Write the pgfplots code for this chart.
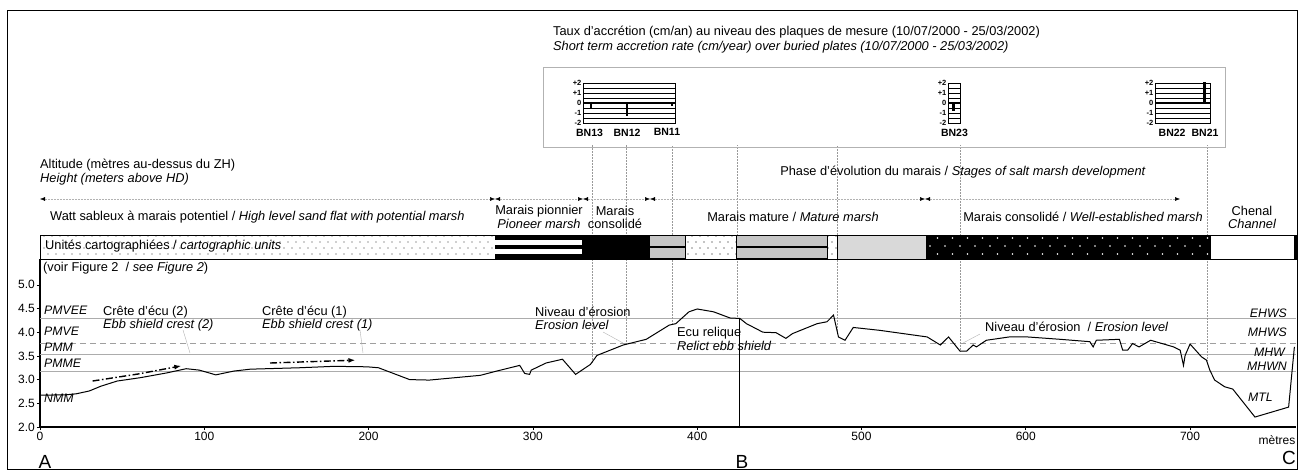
\documentclass[border=0pt]{standalone}
\usepackage{fontspec}
\setmainfont{Liberation Sans}
\usepackage{pgfplots}
\pgfplotsset{compat=1.18}
\usetikzlibrary{arrows.meta,patterns.meta}

\tikzdeclarepattern{
  name=sdots, type=uncolored,
  bounding box={(-1pt,-1pt) and (5pt,7pt)},
  tile size={(8pt,12pt)},
  code={\pgfpathcircle{\pgfpointorigin}{0.6pt}\pgfpathcircle{\pgfqpoint{4pt}{6pt}}{0.6pt}\pgfusepath{fill}}
}
\tikzdeclarepattern{
  name=wdots, type=uncolored,
  bounding box={(-1pt,-1pt) and (8.5pt,9pt)},
  tile size={(15pt,16pt)},
  code={\pgfpathcircle{\pgfpointorigin}{0.9pt}\pgfpathcircle{\pgfqpoint{7.5pt}{8pt}}{0.9pt}\pgfusepath{fill}}
}

\newcommand\lbl{\fontsize{12.8}{14}\selectfont}
\newcommand\lvl{\fontsize{12.3}{14}\selectfont}
\newcommand\seg[5]{\addplot[#5] coordinates {(#1,#3) (#2,#3) (#2,#4) (#1,#4)} --cycle;}

\pgfplotsset{mini/.style={scale only axis, anchor=south west, height=40pt,
  ymin=-2, ymax=2, ytick={-2,-1,0,1,2}, yticklabels={-2,-1,0,+1,+2},
  minor ytick={-1.5,-0.5,0.5,1.5}, ymajorgrids, yminorgrids,
  major grid style={black,line width=0.4pt}, minor grid style={black,line width=0.4pt},
  axis line style={black,line width=0.5pt}, major tick length=2pt, minor tick length=0pt,
  tick style={black},
  yticklabel style={font=\bfseries\fontsize{7.5}{8}\selectfont, inner sep=1.5pt},
  xticklabel style={font=\bfseries\fontsize{10.5}{12}\selectfont, inner sep=2pt, yshift=-3.5pt},
  xtick style={draw=none},
  /pgf/number format/assume math mode=true, clip=false}}

\begin{document}
\begin{tikzpicture}
\useasboundingbox (0pt,0pt) rectangle (1300pt,-470pt);

% ---------------- main profile axis ----------------
\begin{axis}[
  at={(40pt,-427pt)}, anchor=south west,
  scale only axis, width=1256pt, height=168pt,
  xmin=0, xmax=764.46, ymin=2, ymax=5.5443,
  axis x line*=bottom, axis y line*=left,
  axis line style={line width=1.1pt,-},
  xtick={0,100,...,700}, ytick={2,2.5,...,5},
  tick align=outside, major tick length=3pt, tick style={black,line width=0.6pt},
  yticklabel style={/pgf/number format/fixed,/pgf/number format/fixed zerofill,/pgf/number format/precision=1, inner sep=2pt},
  xticklabel style={inner sep=2pt},
  ticklabel style={font=\fontsize{12}{13}\selectfont},
  /pgf/number format/assume math mode=true,
  clip=false]
% tide levels
\addplot[gray!65, line width=0.7pt] coordinates {(0,4.3) (764.46,4.3)};
\addplot[gray!75, line width=0.7pt, dash pattern=on 6pt off 4pt] coordinates {(0,3.76) (764.46,3.76)};
\addplot[gray!65, line width=0.7pt] coordinates {(0,3.53) (764.46,3.53)};
\addplot[gray!65, line width=0.7pt] coordinates {(0,3.18) (764.46,3.18)};
% plate lines
\addplot[gray!80, densely dotted, line width=0.5pt] coordinates {(336,3.36) (336,7.95)};
\addplot[gray!80, densely dotted, line width=0.5pt] coordinates {(356.7,3.74) (356.7,7.95)};
\addplot[gray!80, densely dotted, line width=0.5pt] coordinates {(384.7,4.16) (384.7,7.95)};
\addplot[gray!80, densely dotted, line width=0.5pt] coordinates {(424.2,4.29) (424.2,7.95)};
\addplot[gray!80, densely dotted, line width=0.5pt] coordinates {(485.1,4.0) (485.1,7.95)};
\addplot[gray!80, densely dotted, line width=0.5pt] coordinates {(560,3.6) (560,7.95)};
\addplot[gray!80, densely dotted, line width=0.5pt] coordinates {(710.3,3.41) (710.3,7.95)};
% profile
\addplot[black, line width=1pt] coordinates {
(0,2.0) (0,2.67) (16,2.68) (22,2.70) (30,2.76) (37,2.86) (47,2.97) (61,3.04) (77,3.14)
(89,3.23) (97,3.20) (107,3.10) (118,3.18) (128,3.22) (158,3.25) (179,3.28) (199,3.27)
(206,3.25) (225,3.00) (237,2.99) (268,3.09) (278,3.18) (292,3.30) (295,3.13) (298,3.11)
(299,3.20) (308,3.35) (318,3.43) (326,3.11) (335,3.32) (339,3.51) (355,3.73) (369,3.85)
(383,4.15) (387,4.18) (395,4.43) (400,4.49) (410,4.43) (420,4.30) (426,4.29) (430,4.18)
(440,4.00) (448,3.99) (454,3.87) (458,3.97) (473,4.18) (479,4.22) (483,4.36) (486,3.90)
(490,3.83) (495,4.10) (511,4.04) (540,3.90) (548,3.73) (553,3.90) (560,3.60) (564,3.60)
(568,3.73) (570,3.69) (576,3.83) (590,3.90) (601,3.90) (621,3.85) (639,3.80) (641,3.69)
(643,3.83) (657,3.85) (659,3.62) (662,3.62) (665,3.76) (669,3.69) (676,3.83) (690,3.69)
(694,3.62) (696,3.30) (697,3.51) (700,3.75) (707,3.48) (710,3.41) (712,3.20) (715,2.99)
(721,2.85) (726,2.80) (739.5,2.21) (760,2.42) (763.5,3.69)};
% B line
\addplot[black, line width=1pt] coordinates {(426,2.0) (426,4.27)};
% dash-dot arrows
\addplot[black, line width=1.4pt, dash pattern=on 7pt off 2.5pt on 1.5pt off 2.5pt, -{Latex[length=7pt,width=5pt]}] coordinates {(32,2.97) (60,3.12) (86,3.29)};
\addplot[black, line width=1.4pt, dash pattern=on 7pt off 2.5pt on 1.5pt off 2.5pt, -{Latex[length=7pt,width=5pt]}] coordinates {(140,3.35) (192,3.41)};
\end{axis}

% ---------------- cartographic units band ----------------
\begin{axis}[
  at={(40pt,-259pt)}, anchor=south west,
  scale only axis, width=1256pt, height=24pt,
  xmin=0, xmax=764.46, ymin=0, ymax=24,
  xtick=\empty, ytick=\empty, axis on top,
  axis line style={black,line width=0.8pt}]
\seg{0}{277}{0}{24}{draw=none, pattern=sdots, pattern color=black!80}
\seg{277}{330}{0}{24}{draw=none, fill=black}
\seg{277}{330}{4.8}{9.6}{draw=none, fill=white}
\seg{277}{330}{14.4}{19.2}{draw=none, fill=white}
\seg{330}{371}{0}{24}{draw=none, fill=black}
\seg{371}{393}{0}{24}{draw=none, fill=gray!45}
\seg{393}{424}{0}{24}{draw=none, pattern=sdots, pattern color=black}
\seg{424}{479}{0}{24}{draw=none, fill=gray!45}
\seg{479}{485}{0}{24}{draw=none, pattern=sdots, pattern color=black}
\seg{485}{539}{0}{24}{draw=none, fill=gray!30}
\seg{539}{712}{0}{24}{draw=none, fill=black}
\seg{539}{712}{0}{24}{draw=none, pattern=wdots, pattern color=white}
\seg{763}{764.46}{0}{24}{draw=none, fill=black}
\addplot[black, line width=1.2pt] coordinates {(371,12) (393,12)};
\addplot[black, line width=1.2pt] coordinates {(424,12) (479,12)};
\addplot[black, line width=0.6pt] coordinates {(371,1) (393,1)};
\addplot[black, line width=0.6pt] coordinates {(424,1) (479,1)};
\addplot[black, line width=0.5pt] coordinates {(393,0) (393,24)};
\addplot[black, line width=0.5pt] coordinates {(424,0) (424,24)};
\addplot[black, line width=0.5pt] coordinates {(479,0) (479,24)};
\addplot[black, line width=0.5pt] coordinates {(485,0) (485,24)};
\addplot[black, line width=0.5pt] coordinates {(712,0) (712,24)};
\end{axis}

% ---------------- accretion mini charts ----------------
\begin{axis}[mini, at={(583pt,-123pt)}, width=92pt, xmin=330.5, xmax=386.5,
  xtick={334.5,357.3,381.6}, xticklabels={BN13,BN12,BN11}]
\addplot[black, line width=1pt] coordinates {(330.5,0) (386.5,0)};
\addplot[black, line width=2.4pt] coordinates {(335.4,0.1) (335.4,-0.5)};
\addplot[black, line width=2.4pt] coordinates {(357.3,0) (357.3,-1.35)};
\addplot[black, line width=1.6pt] coordinates {(384.7,0.1) (384.7,-0.35)};
\end{axis}
\begin{axis}[mini, at={(948pt,-123pt)}, width=12pt, xmin=552.6, xmax=559.9,
  xtick={556.5}, xticklabels={BN23}]
\addplot[black, line width=1pt] coordinates {(552.6,0) (559.9,0)};
\addplot[black, line width=2.4pt] coordinates {(556,-0.15) (556,-0.85)};
\end{axis}
\begin{axis}[mini, at={(1155pt,-123pt)}, width=55pt, xmin=678.6, xmax=712,
  xtick={689,709}, xticklabels={BN22,BN21}]
\addplot[black, line width=1pt] coordinates {(678.6,0) (712,0)};
\addplot[black, line width=2.6pt] coordinates {(708.5,0) (708.5,2.05)};
\addplot[black, line width=1pt] coordinates {(689,-0.1) (689,0.05)};
\end{axis}

% ---------------- annotations (pixel coordinates) ----------------
\begin{scope}[x=1pt,y=-1pt, every node/.append style={inner sep=0pt, text=black}]
\draw[line width=1pt] (7,11) rectangle (1297,469);
\draw[gray!60, line width=0.5pt] (543,67) rectangle (1225,147);

\node[anchor=west, font=\lbl] at (553,32) {Taux d'accrétion (cm/an) au niveau des plaques de mesure (10/07/2000 - 25/03/2002)};
\node[anchor=west, font=\lbl\itshape] at (553,47) {Short term accretion rate (cm/year) over buried plates (10/07/2000 - 25/03/2002)};

\node[anchor=west, font=\lbl] at (40,165) {Altitude (mètres au-dessus du ZH)};
\node[anchor=west, font=\lbl\itshape] at (40,179) {Height (meters above HD)};
\node[font=\lbl] at (963,172) {Phase d'évolution du marais / \textit{Stages of salt marsh development}};

% stage arrows
\foreach \a/\b in {40/495,495/583,583/650,650/925,925/1180}
  \draw[gray!60, line width=0.5pt, dash pattern=on 2pt off 1pt,
        {Latex[length=5pt,width=4pt,color=black]}-{Latex[length=5pt,width=4pt,color=black]}] (\a,199) -- (\b,199);

\node[anchor=west, font=\lbl] at (50,217) {Watt sableux à marais potentiel / \textit{High level sand flat with potential marsh}};
\node[font=\lbl] at (539,211) {Marais pionnier};
\node[font=\lbl\itshape] at (539,224) {Pioneer marsh};
\node[font=\lbl] at (615,211) {Marais};
\node[font=\lbl] at (615,224) {consolidé};
\node[font=\lbl] at (793,217) {Marais mature / \textit{Mature marsh}};
\node[font=\lbl] at (1083,217) {Marais consolidé / \textit{Well-established marsh}};
\node[font=\lbl] at (1252,211) {Chenal};
\node[font=\lbl\itshape] at (1252,224) {Channel};

\node[anchor=west, font=\lbl] at (45,246) {Unités cartographiées / \textit{cartographic units}};
\node[anchor=west, font=\lbl] at (43,268) {(voir Figure 2 \ / \textit{see Figure 2})};

% tide level names
\node[anchor=west, font=\lvl\itshape] at (44,310) {PMVEE};
\node[anchor=west, font=\lvl\itshape] at (44,331) {PMVE};
\node[anchor=west, font=\lvl\itshape] at (44,347) {PMM};
\node[anchor=west, font=\lvl\itshape] at (44,363) {PMME};
\node[anchor=west, font=\lvl\itshape] at (44,398) {NMM};
\node[anchor=east, font=\lvl\itshape] at (1287,313) {EHWS};
\node[anchor=east, font=\lvl\itshape] at (1287,332) {MHWS};
\node[anchor=east, font=\lvl\itshape] at (1285,352) {MHW};
\node[anchor=east, font=\lvl\itshape] at (1287,366) {MHWN};
\node[anchor=east, font=\lvl\itshape] at (1273,397) {MTL};

% profile annotations
\node[anchor=west, font=\lbl] at (103,312) {Crête d'écu (2)};
\node[anchor=west, font=\lbl\itshape] at (103,325) {Ebb shield crest (2)};
\node[anchor=west, font=\lbl] at (262,312) {Crête d'écu (1)};
\node[anchor=west, font=\lbl\itshape] at (262,325) {Ebb shield crest (1)};
\node[anchor=west, font=\lbl] at (535,312) {Niveau d'érosion};
\node[anchor=west, font=\lbl\itshape] at (535,325) {Erosion level};
\node[anchor=west, font=\lbl] at (677,333) {Ecu relique};
\node[anchor=west, font=\lbl\itshape] at (677,346) {Relict ebb shield};
\node[anchor=west, font=\lbl] at (985,327) {Niveau d'érosion \ / \textit{Erosion level}};
\draw[gray!60, line width=0.4pt] (183,330) -- (190,353);
\draw[gray!60, line width=0.4pt] (360,330) -- (363,353);
\draw[gray!60, line width=0.4pt] (603,332) -- (623,343);
\draw[gray!60, line width=0.4pt] (980,334) -- (963,343);

\node[font=\fontsize{12}{13}\selectfont] at (1277,440) {mètres};
\node[font=\fontsize{19}{21}\selectfont] at (45,462) {A};
\node[font=\fontsize{19}{21}\selectfont] at (742,462) {B};
\node[font=\fontsize{19}{21}\selectfont] at (1289,458) {C};
\end{scope}
\end{tikzpicture}
\end{document}
